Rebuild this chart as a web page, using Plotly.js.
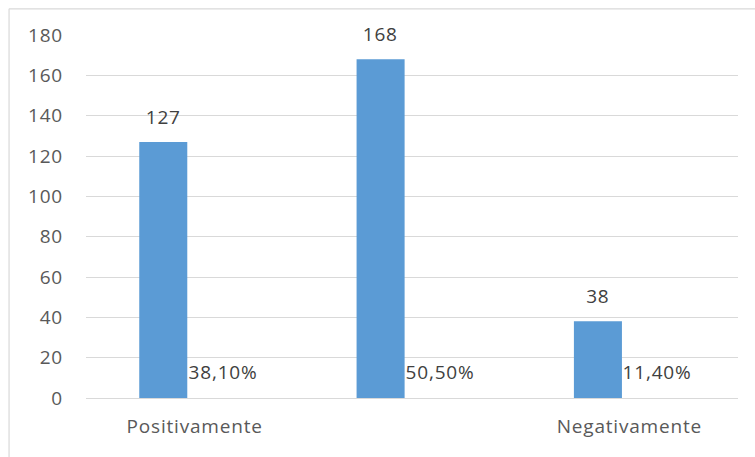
<!DOCTYPE html>
<html>
<head>
<meta charset="utf-8">
<script src="https://cdn.plot.ly/plotly-3.0.1.min.js"></script>
<style>
html, body { margin: 0; padding: 0; background: #fff; }
#chart { width: 755px; height: 457px; }
#chart svg text { letter-spacing: 0.8px; }
</style>
</head>
<body>
<div id="chart"></div>
<script>
// Data
const categories = ['Positivamente', '', 'Negativamente'];
const counts = [127, 168, 38];
const percentLabels = ['38,10%', '50,50%', '11,40%'];
const yTicks = [0, 20, 40, 60, 80, 100, 120, 140, 160, 180];

const xIdx = categories.map((c, i) => i);
const FONT = 'Open Sans, sans-serif';
const FS = 19;

const bars = {
  type: 'bar',
  x: xIdx,
  y: counts,
  width: 0.221,
  offset: -0.255,
  marker: { color: '#5B9BD5', line: { width: 0 } },
  hoverinfo: 'skip'
};

const annotations = [];
counts.forEach((v, i) => {
  annotations.push({
    x: i, y: v, xref: 'x', yref: 'y',
    text: String(v), showarrow: false,
    xanchor: 'center', yanchor: 'middle',
    xshift: -31.5, yshift: 25,
    font: { family: FONT, size: FS, color: '#404040' }
  });
});
percentLabels.forEach((t, i) => {
  annotations.push({
    x: i, y: 0, xref: 'x', yref: 'y',
    text: t, showarrow: false,
    xanchor: 'left', yanchor: 'middle',
    xshift: -6, yshift: 26,
    font: { family: FONT, size: FS, color: '#404040' }
  });
});

const layout = {
  width: 755, height: 457,
  margin: { l: 86, r: 17, t: 35, b: 59 },
  paper_bgcolor: '#ffffff',
  plot_bgcolor: '#ffffff',
  showlegend: false,
  font: { family: FONT, size: FS, color: '#595959' },
  xaxis: {
    type: 'linear',
    range: [-0.5, 2.5],
    tickmode: 'array',
    tickvals: xIdx,
    ticktext: categories,
    showgrid: false,
    zeroline: false,
    showline: false,
    ticks: '',
    ticklabelstandoff: 15,
    tickfont: { family: FONT, size: FS, color: '#595959' },
    fixedrange: true
  },
  yaxis: {
    range: [0, 180],
    tickmode: 'array',
    tickvals: yTicks,
    showgrid: true,
    gridcolor: '#D9D9D9',
    gridwidth: 1,
    zeroline: true,
    zerolinecolor: '#D9D9D9',
    zerolinewidth: 1,
    showline: false,
    ticks: '',
    ticklabelstandoff: 22,
    tickfont: { family: FONT, size: FS, color: '#595959' },
    fixedrange: true
  },
  shapes: [
    { type: 'line', xref: 'paper', yref: 'paper',
      x0: -0.118, x1: -0.118, y0: -0.2, y1: 1.072,
      line: { color: '#D9D9D9', width: 1.2 } },
    { type: 'line', xref: 'paper', yref: 'paper',
      x0: -0.118, x1: 1.1, y0: 1.072, y1: 1.072,
      line: { color: '#D9D9D9', width: 1.2 } }
  ],
  annotations: annotations
};

Plotly.newPlot('chart', [bars], layout, { displayModeBar: false, staticPlot: true });
</script>
</body>
</html>
